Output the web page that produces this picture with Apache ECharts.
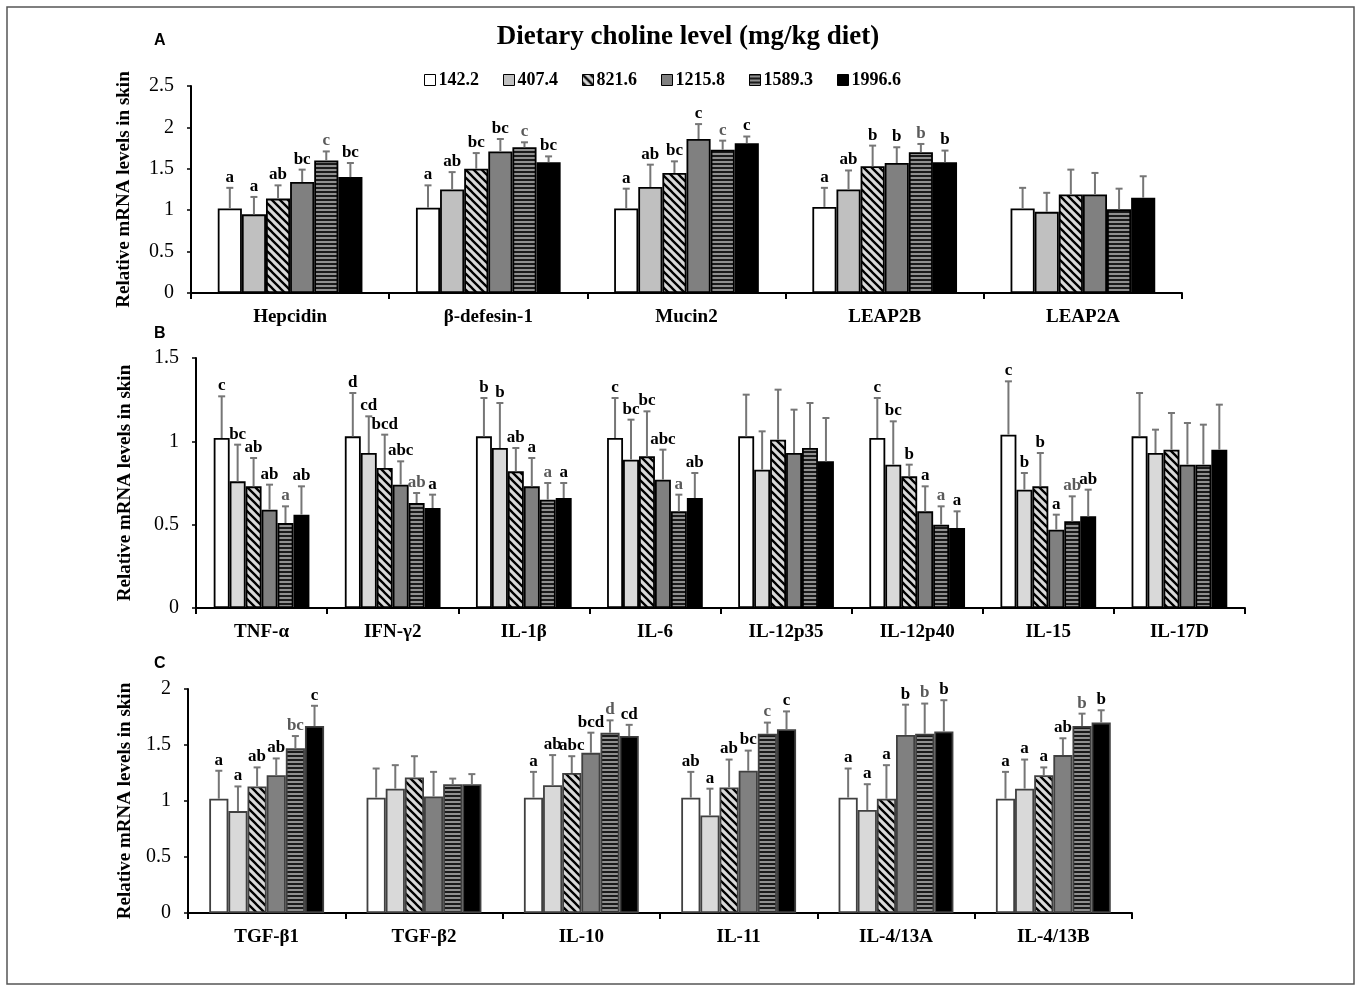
<!DOCTYPE html>
<html><head><meta charset="utf-8">
<script src="https://cdn.jsdelivr.net/npm/echarts@6/dist/echarts.min.js"></script>
<style>html,body{margin:0;padding:0;background:#fff}#c{width:1357px;height:988px}</style>
</head><body><div id="c"></div><script>
// ---------- DATA ----------
const doses = ['142.2', '407.4', '821.6', '1215.8', '1589.3', '1996.6'];

const catA = ['Hepcidin', 'β-defesin-1', 'Mucin2', 'LEAP2B', 'LEAP2A'];
const meanA = [
  [1.02, 1.03, 1.02, 1.04, 1.02],
  [0.95, 1.25, 1.28, 1.25, 0.98],
  [1.14, 1.50, 1.45, 1.53, 1.19],
  [1.34, 1.71, 1.86, 1.57, 1.19],
  [1.60, 1.76, 1.73, 1.70, 1.01],
  [1.40, 1.58, 1.81, 1.58, 1.15]
];
const sdA = [
  [0.25, 0.27, 0.24, 0.23, 0.25],
  [0.21, 0.21, 0.27, 0.23, 0.23],
  [0.16, 0.19, 0.14, 0.25, 0.30],
  [0.15, 0.15, 0.18, 0.19, 0.26],
  [0.11, 0.06, 0.11, 0.10, 0.25],
  [0.17, 0.07, 0.08, 0.14, 0.26]
];
const letA = [
  ['a', 'a', 'a', 'a', ''],
  ['a', 'ab', 'ab', 'ab', ''],
  ['ab', 'bc', 'bc', 'b', ''],
  ['bc', 'bc', 'c', 'b', ''],
  ['c', 'c', 'c', 'b', ''],
  ['bc', 'bc', 'c', 'b', '']
];

const catB = ['TNF-α', 'IFN-γ2', 'IL-1β', 'IL-6', 'IL-12p35', 'IL-12p40', 'IL-15', 'IL-17D'];
const meanB = [
  [1.02, 1.03, 1.03, 1.02, 1.03, 1.02, 1.04, 1.03],
  [0.76, 0.93, 0.96, 0.89, 0.83, 0.86, 0.71, 0.93],
  [0.73, 0.84, 0.82, 0.91, 1.01, 0.79, 0.73, 0.95],
  [0.59, 0.74, 0.73, 0.77, 0.93, 0.58, 0.47, 0.86],
  [0.51, 0.63, 0.65, 0.58, 0.96, 0.50, 0.52, 0.86],
  [0.56, 0.60, 0.66, 0.66, 0.88, 0.48, 0.55, 0.95]
];
const sdB = [
  [0.25, 0.26, 0.23, 0.24, 0.25, 0.24, 0.32, 0.26],
  [0.22, 0.22, 0.27, 0.24, 0.23, 0.26, 0.10, 0.14],
  [0.17, 0.20, 0.14, 0.27, 0.30, 0.07, 0.20, 0.22],
  [0.15, 0.14, 0.17, 0.18, 0.26, 0.15, 0.09, 0.25],
  [0.10, 0.06, 0.10, 0.10, 0.27, 0.11, 0.15, 0.24],
  [0.17, 0.08, 0.09, 0.15, 0.26, 0.10, 0.16, 0.27]
];
const letB = [
  ['c', 'd', 'b', 'c', '', 'c', 'c', ''],
  ['bc', 'cd', 'b', 'bc', '', 'bc', 'b', ''],
  ['ab', 'bcd', 'ab', 'bc', '', 'b', 'b', ''],
  ['ab', 'abc', 'a', 'abc', '', 'a', 'a', ''],
  ['a', 'ab', 'a', 'a', '', 'a', 'ab', ''],
  ['ab', 'a', 'a', 'ab', '', 'a', 'ab', '']
];

const catC = ['TGF-β1', 'TGF-β2', 'IL-10', 'IL-11', 'IL-4/13A', 'IL-4/13B'];
const meanC = [
  [1.02, 1.03, 1.03, 1.03, 1.03, 1.02],
  [0.91, 1.11, 1.14, 0.87, 0.92, 1.11],
  [1.13, 1.21, 1.25, 1.12, 1.02, 1.23],
  [1.23, 1.04, 1.43, 1.27, 1.59, 1.41],
  [1.47, 1.15, 1.61, 1.60, 1.60, 1.67],
  [1.67, 1.15, 1.58, 1.64, 1.62, 1.70]
];
const sdC = [
  [0.25, 0.26, 0.23, 0.23, 0.26, 0.24],
  [0.22, 0.21, 0.27, 0.24, 0.23, 0.26],
  [0.17, 0.19, 0.15, 0.25, 0.30, 0.07],
  [0.15, 0.22, 0.18, 0.18, 0.27, 0.15],
  [0.11, 0.05, 0.11, 0.10, 0.27, 0.11],
  [0.18, 0.09, 0.10, 0.16, 0.28, 0.11]
];
const letC = [
  ['a', '', 'a', 'ab', 'a', 'a'],
  ['a', '', 'ab', 'a', 'a', 'a'],
  ['ab', '', 'abc', 'ab', 'a', 'a'],
  ['ab', '', 'bcd', 'bc', 'b', 'ab'],
  ['bc', '', 'd', 'c', 'b', 'b'],
  ['c', '', 'cd', 'c', 'b', 'b']
];

const yTitle = 'Relative mRNA levels in skin';
const mainTitle = 'Dietary choline level (mg/kg diet)';

// ---------- STYLE / LAYOUT ----------
const SERIF = '"Liberation Serif", "Times New Roman", serif';
function hatch() {
  const c = document.createElement('canvas'); c.width = 8; c.height = 8;
  const g = c.getContext('2d');
  g.fillStyle = '#d9d9d9'; g.fillRect(0, 0, 8, 8);
  g.strokeStyle = '#000'; g.lineWidth = 2.3; g.beginPath();
  g.moveTo(-2, -2); g.lineTo(10, 10);
  g.moveTo(-2, 6); g.lineTo(2, 10);
  g.moveTo(6, -2); g.lineTo(10, 2);
  g.stroke();
  return c;
}
function hstripe() {
  const c = document.createElement('canvas'); c.width = 4; c.height = 4;
  const g = c.getContext('2d');
  g.fillStyle = '#1a1a1a'; g.fillRect(0, 0, 4, 4);
  g.fillStyle = '#8f8f8f'; g.fillRect(0, 1, 4, 2);
  return c;
}
const hatchPat = { image: hatch(), repeat: 'repeat' };
const stripePat = { image: hstripe(), repeat: 'repeat' };

const GAP = 0.27;
const panels = [
  { cats: catA, mean: meanA, sd: sdA, let: letA, grid: { left: 191, top: 86, width: 991, height: 207 }, max: 2.5, nameGap: 57, light: '#c0c0c0', border: '#000' },
  { cats: catB, mean: meanB, sd: sdB, let: letB, grid: { left: 196, top: 358, width: 1049, height: 250 }, max: 1.5, nameGap: 61, light: '#d9d9d9', border: '#000' },
  { cats: catC, mean: meanC, sd: sdC, let: letC, grid: { left: 188, top: 689, width: 944, height: 224 }, max: 2, nameGap: 53, light: '#d9d9d9', border: '#404040' }
];

const grids = [], xAxes = [], yAxes = [], series = [];
panels.forEach((p, pi) => {
  grids.push(Object.assign({ containLabel: false }, p.grid));
  xAxes.push({
    type: 'category', gridIndex: pi, data: p.cats,
    axisLine: { show: true, lineStyle: { color: '#000', width: 2 } },
    axisTick: { show: true, length: 6, lineStyle: { color: '#000', width: 2 } },
    axisLabel: { interval: 0, margin: 15, color: '#000', fontFamily: SERIF, fontWeight: 'bold', fontSize: 19 },
    splitLine: { show: false }
  });
  yAxes.push({
    type: 'value', gridIndex: pi, min: 0, max: p.max, interval: 0.5,
    name: yTitle, nameLocation: 'middle', nameGap: p.nameGap,
    nameTextStyle: { color: '#000', fontFamily: SERIF, fontWeight: 'bold', fontSize: 19 },
    axisLine: { show: true, lineStyle: { color: '#000', width: 2 } },
    axisTick: { show: true, length: 4, lineStyle: { color: '#000', width: 1.5 } },
    axisLabel: { color: '#000', fontFamily: SERIF, fontSize: 20, margin: 17 },
    splitLine: { show: false }
  });
  const fills = ['#ffffff', p.light, hatchPat, '#808080', stripePat, '#000000'];
  doses.forEach((d, s) => {
    series.push({
      type: 'bar', name: d, xAxisIndex: pi, yAxisIndex: pi,
      data: p.mean[s], barGap: '0%', barCategoryGap: (GAP * 100) + '%',
      itemStyle: { color: fills[s], borderColor: p.border, borderWidth: 1.8 },
      emphasis: { disabled: true }, silent: true, z: 2
    });
  });
  doses.forEach((d, s) => {
    const data = p.cats.map((c, i) => [i, p.mean[s][i], p.mean[s][i] + p.sd[s][i]]);
    const letters = p.let[s];
    series.push({
      type: 'custom', name: 'err' + pi + '_' + s, xAxisIndex: pi, yAxisIndex: pi,
      data: data, z: 5, silent: true,
      renderItem: function (params, api) {
        const idx = api.value(0);
        const base = api.coord([idx, api.value(1)]);
        const top = api.coord([idx, api.value(2)]);
        const band = api.size([1, 0])[0];
        const gw = band * (1 - GAP);
        const bw = gw / 6;
        const cx = base[0] - gw / 2 + (s + 0.5) * bw;
        const col = '#767676';
        const children = [
          { type: 'line', shape: { x1: cx, y1: base[1], x2: cx, y2: top[1] }, style: { stroke: col, lineWidth: 2 } },
          { type: 'line', shape: { x1: cx - 3.5, y1: top[1], x2: cx + 3.5, y2: top[1] }, style: { stroke: col, lineWidth: 2 } }
        ];
        const t = letters[params.dataIndex];
        if (t) {
          children.push({ type: 'text', style: { text: t, x: cx, y: top[1] - 2, align: 'center', verticalAlign: 'bottom',
            fontFamily: SERIF, fontWeight: 'bold', fontSize: 17, fill: s === 4 ? '#5a5a5a' : '#000' } });
        }
        return { type: 'group', children: children };
      }
    });
  });
});

const chart = echarts.init(document.getElementById('c'), null, { renderer: 'canvas' });
chart.setOption({
  backgroundColor: '#fff',
  animation: false,
  title: { text: mainTitle, left: 683, textAlign: 'center', top: 19,
    textStyle: { fontFamily: SERIF, fontWeight: 'bold', fontSize: 27, color: '#000' } },
  legend: {
    data: doses, top: 66, left: 419, itemWidth: 11, itemHeight: 11, itemGap: 24,
    icon: 'rect',
    itemStyle: { borderColor: '#000', borderWidth: 1 },
    textStyle: { fontFamily: SERIF, fontWeight: 'bold', fontSize: 18, color: '#000', padding: [0, 0, 0, -2] }
  },
  graphic: [
    { type: 'rect', shape: { x: 7, y: 7, width: 1347, height: 977 }, style: { fill: 'none', stroke: '#555', lineWidth: 1.5 }, silent: true },
    { type: 'text', x: 154, y: 33, style: { text: 'A', font: 'bold 16px "Liberation Sans", Arial, sans-serif', fill: '#000' } },
    { type: 'text', x: 154, y: 326, style: { text: 'B', font: 'bold 16px "Liberation Sans", Arial, sans-serif', fill: '#000' } },
    { type: 'text', x: 154, y: 656, style: { text: 'C', font: 'bold 16px "Liberation Sans", Arial, sans-serif', fill: '#000' } }
  ],
  grid: grids, xAxis: xAxes, yAxis: yAxes, series: series
});
</script></body></html>
